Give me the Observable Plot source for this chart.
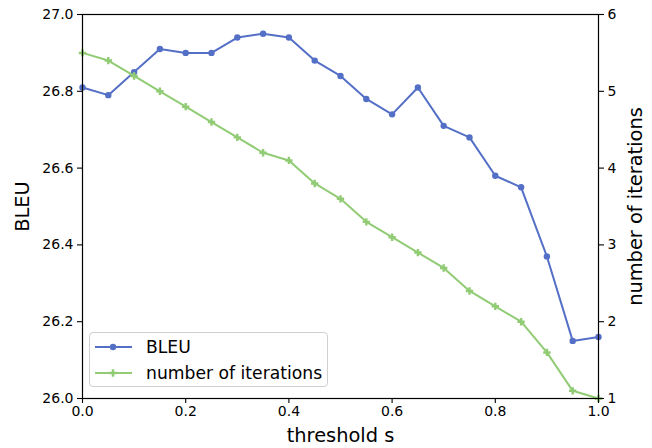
<!DOCTYPE html>
<html>
<head>
<meta charset="utf-8">
<script src="https://cdn.jsdelivr.net/npm/d3@7"></script>
<script src="https://cdn.jsdelivr.net/npm/@observablehq/plot@0.6"></script>
<style>
  html, body { margin: 0; padding: 0; background: #fff; }
  #wrap { position: relative; width: 652px; height: 448px; font-family: "DejaVu Sans", sans-serif; }
  #legend { position: absolute; left: 89px; top: 332px; width: 239px; height: 55px; box-sizing: border-box;
    border: 1px solid #d0d0d0; border-radius: 4px; background: rgba(255,255,255,0.85); }
  .item { position: absolute; left: 0; height: 20px; display: flex; align-items: center; font-size: 17.2px; color: #000; }
  .item svg { margin-left: 5px; margin-right: 14px; }
</style>
</head>
<body>
<div id="wrap"></div>
<script>
const thresholds = [0.00, 0.05, 0.10, 0.15, 0.20, 0.25, 0.30, 0.35, 0.40, 0.45, 0.50,
                    0.55, 0.60, 0.65, 0.70, 0.75, 0.80, 0.85, 0.90, 0.95, 1.00];
const bleu = [26.81, 26.79, 26.85, 26.91, 26.90, 26.90, 26.94, 26.95, 26.94, 26.88, 26.84,
              26.78, 26.74, 26.81, 26.71, 26.68, 26.58, 26.55, 26.37, 26.15, 26.16];
const iterations = [5.5, 5.4, 5.2, 5.0, 4.8, 4.6, 4.4, 4.2, 4.1, 3.8, 3.6,
                    3.3, 3.1, 2.9, 2.7, 2.4, 2.2, 2.0, 1.6, 1.1, 1.0];
const bleuTicks = [26.0, 26.2, 26.4, 26.6, 26.8, 27.0];
const iterTicks = [1, 2, 3, 4, 5, 6];
const xTicks = [0.0, 0.2, 0.4, 0.6, 0.8, 1.0];
const seriesNames = ["BLEU", "number of iterations"];
const colors = ["#5470c6", "#91cc75"];

const bleuDomain = [26, 27];
const iterDomain = [1, 6];
// map iterations onto the BLEU (left) scale for the twin axis
const iterToY = v => bleuDomain[0] + (v - iterDomain[0]) / (iterDomain[1] - iterDomain[0]) * (bleuDomain[1] - bleuDomain[0]);

const bleuData = thresholds.map((t, i) => ({t, v: bleu[i]}));
const iterData = thresholds.map((t, i) => ({t, v: iterToY(iterations[i])}));

const chart = Plot.plot({
  width: 652,
  height: 448,
  marginLeft: 82,
  marginRight: 54,
  marginTop: 14,
  marginBottom: 50,
  style: {fontFamily: "DejaVu Sans, sans-serif", color: "#000", background: "#fff"},
  x: {domain: [0, 1]},
  y: {domain: bleuDomain},
  marks: [
    Plot.line(bleuData, {x: "t", y: "v", stroke: colors[0], strokeWidth: 2}),
    Plot.dot(bleuData, {x: "t", y: "v", fill: colors[0], r: 3.2, stroke: "none"}),
    Plot.line(iterData, {x: "t", y: "v", stroke: colors[1], strokeWidth: 2}),
    Plot.dot(iterData, {x: "t", y: "v", fill: colors[1], symbol: "cross", r: 3.1, stroke: "none"}),
    Plot.frame({stroke: "#000", strokeWidth: 1.2}),
    Plot.axisX(xTicks, {anchor: "bottom", tickFormat: d => d.toFixed(1), tickSize: 5, tickPadding: 3, fontSize: 14, label: null, strokeWidth: 1.1}),
    Plot.axisY(bleuTicks, {anchor: "left", tickFormat: d => d.toFixed(1), tickSize: 5, tickPadding: 4, fontSize: 14, label: null, strokeWidth: 1.1}),
    Plot.axisY(iterTicks.map(iterToY), {anchor: "right", tickFormat: (d, i) => String(iterTicks[i]), tickSize: 5, tickPadding: 4, fontSize: 14, label: null, strokeWidth: 1.1}),
    Plot.text(["threshold s"], {frameAnchor: "bottom", textAnchor: "middle", dy: 43, fontSize: 19.4, fill: "#000"}),
    Plot.text(["BLEU"], {frameAnchor: "left", textAnchor: "middle", rotate: -90, dx: -60, fontSize: 19.4, fill: "#000"}),
    Plot.text(["number of iterations"], {frameAnchor: "right", textAnchor: "middle", rotate: -90, dx: 37, fontSize: 19.4, fill: "#000"})
  ]
});

const wrap = document.getElementById("wrap");
wrap.appendChild(chart);

// legend
const legend = document.createElement("div");
legend.id = "legend";
seriesNames.forEach((name, i) => {
  const item = document.createElement("div");
  item.className = "item";
  item.style.top = (4 + i * 26) + "px";
  const sw = i === 0
    ? `<circle cx="18" cy="10" r="3.2" fill="${colors[i]}"/>`
    : `<path d="${d3.symbol(d3.symbolCross, 32)()}" transform="translate(18,10)" fill="${colors[i]}"/>`;
  item.innerHTML = `<svg width="37" height="20"><line x1="0" x2="37" y1="10" y2="10" stroke="${colors[i]}" stroke-width="2"/>${sw}</svg><span>${name}</span>`;
  legend.appendChild(item);
});
wrap.appendChild(legend);
</script>
</body>
</html>
